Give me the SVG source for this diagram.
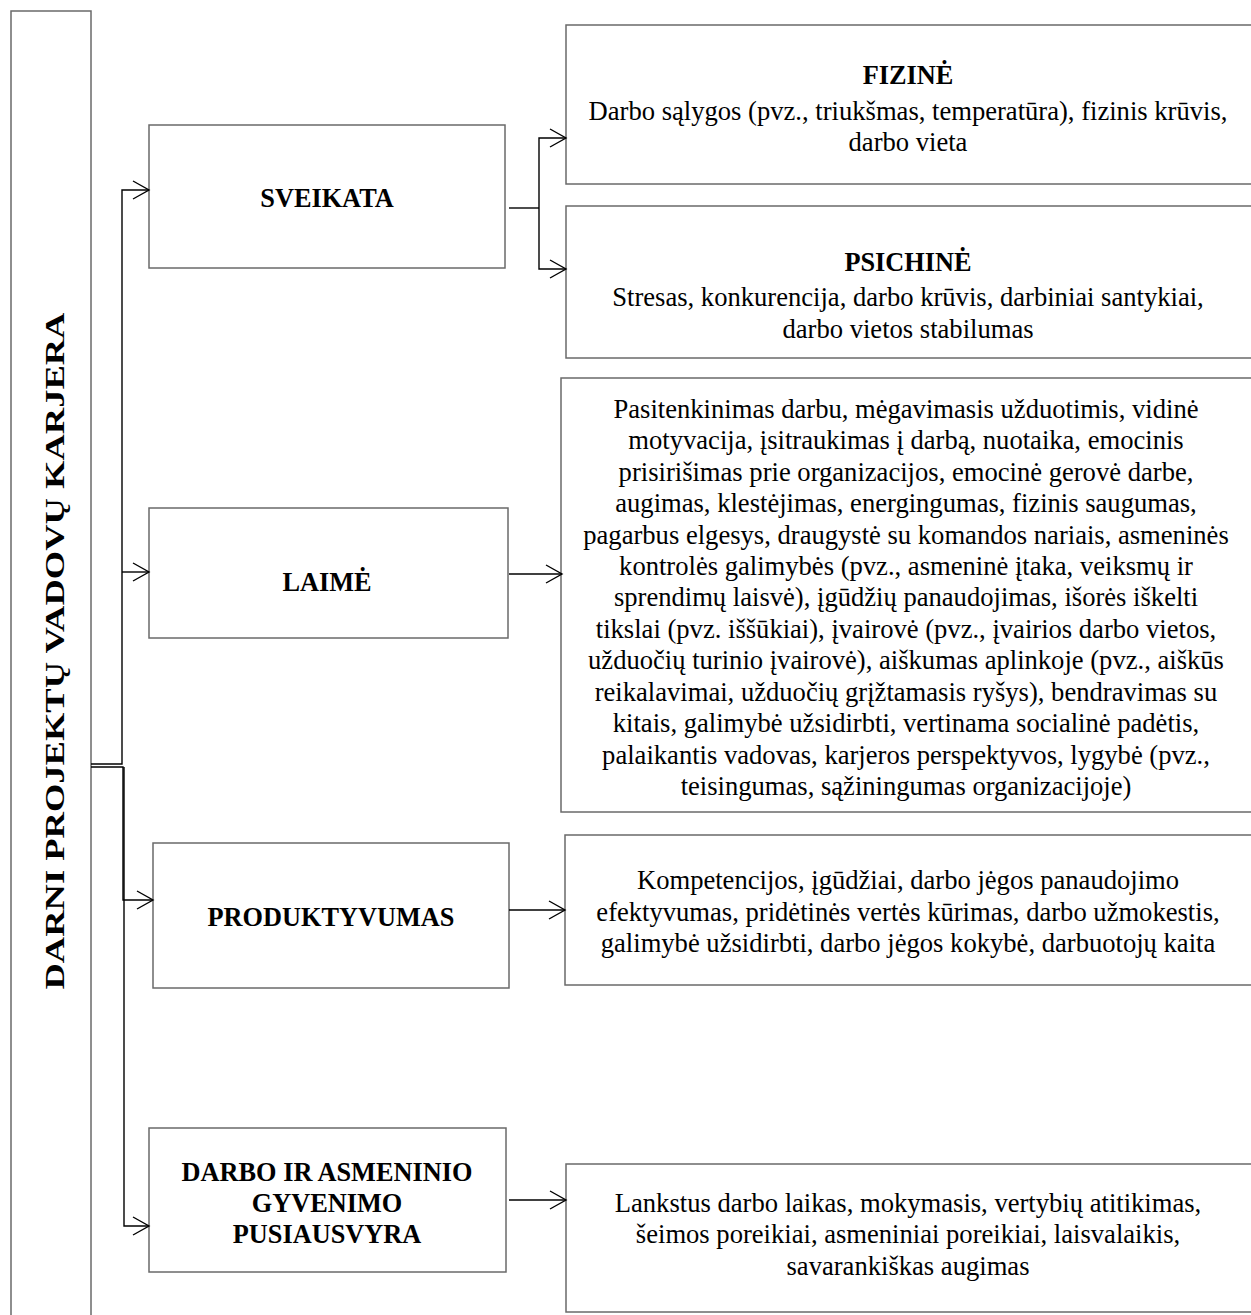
<svg xmlns="http://www.w3.org/2000/svg" width="1251" height="1315" viewBox="0 0 1251 1315">
<style>
.box{fill:#fff;stroke:#6a6a6a;stroke-width:1.5}
.c{fill:none;stroke:#000;stroke-width:1.4}
.t{font-family:"Liberation Serif","Times New Roman",serif;font-size:26.6px;fill:#000;text-anchor:middle}
.b{font-family:"Liberation Serif","Times New Roman",serif;font-size:26.3px;font-weight:bold;fill:#000;text-anchor:middle}
</style>
<defs>
<marker id="arr" viewBox="0 0 20 20" refX="18" refY="10" markerWidth="20" markerHeight="20" orient="auto" markerUnits="userSpaceOnUse">
<path d="M2,1 L18,10 L2,19" fill="none" stroke="#000" stroke-width="1.4"/>
</marker>
</defs>
<rect width="1251" height="1315" fill="#fff"/>

<g id="root">
<rect class="box" x="11" y="11" width="80" height="1320"/>
<text class="b" transform="translate(64,651) rotate(-90)" font-size="37" textLength="677" lengthAdjust="spacingAndGlyphs">DARNI PROJEKTŲ VADOVŲ KARJERA</text>
</g>

<g id="sveikata">
<rect class="box" x="149" y="125" width="356" height="143"/>
<text class="b" x="327" y="207">SVEIKATA</text>
</g>

<g id="fizine">
<rect class="box" x="566" y="25" width="690" height="159"/>
<text class="b" x="908" y="84">FIZINĖ</text>
<text class="t" x="908" y="120">Darbo sąlygos (pvz., triukšmas, temperatūra), fizinis krūvis,</text>
<text class="t" x="908" y="151">darbo vieta</text>
</g>

<g id="psichine">
<rect class="box" x="566" y="206" width="690" height="152"/>
<text class="b" x="908" y="271">PSICHINĖ</text>
<text class="t" x="908" y="306">Stresas, konkurencija, darbo krūvis, darbiniai santykiai,</text>
<text class="t" x="908" y="338">darbo vietos stabilumas</text>
</g>

<g id="laime">
<rect class="box" x="149" y="508" width="359" height="130"/>
<text class="b" x="327" y="591">LAIMĖ</text>
</g>

<g id="laime-desc">
<rect class="box" x="561" y="378" width="695" height="434"/>
<text class="t" x="906" y="418">Pasitenkinimas darbu, mėgavimasis užduotimis, vidinė</text>
<text class="t" x="906" y="449">motyvacija, įsitraukimas į darbą, nuotaika, emocinis</text>
<text class="t" x="906" y="481">prisirišimas prie organizacijos, emocinė gerovė darbe,</text>
<text class="t" x="906" y="512">augimas, klestėjimas, energingumas, fizinis saugumas,</text>
<text class="t" x="906" y="544">pagarbus elgesys, draugystė su komandos nariais, asmeninės</text>
<text class="t" x="906" y="575">kontrolės galimybės (pvz., asmeninė įtaka, veiksmų ir</text>
<text class="t" x="906" y="606">sprendimų laisvė), įgūdžių panaudojimas, išorės iškelti</text>
<text class="t" x="906" y="638">tikslai (pvz. iššūkiai), įvairovė (pvz., įvairios darbo vietos,</text>
<text class="t" x="906" y="669">užduočių turinio įvairovė), aiškumas aplinkoje (pvz., aiškūs</text>
<text class="t" x="906" y="701">reikalavimai, užduočių grįžtamasis ryšys), bendravimas su</text>
<text class="t" x="906" y="732">kitais, galimybė užsidirbti, vertinama socialinė padėtis,</text>
<text class="t" x="906" y="764">palaikantis vadovas, karjeros perspektyvos, lygybė (pvz.,</text>
<text class="t" x="906" y="795">teisingumas, sąžiningumas organizacijoje)</text>
</g>

<g id="produktyvumas">
<rect class="box" x="153" y="843" width="356" height="145"/>
<text class="b" x="331" y="926">PRODUKTYVUMAS</text>
</g>

<g id="produktyvumas-desc">
<rect class="box" x="565" y="835" width="691" height="150"/>
<text class="t" x="908" y="889">Kompetencijos, įgūdžiai, darbo jėgos panaudojimo</text>
<text class="t" x="908" y="921">efektyvumas, pridėtinės vertės kūrimas, darbo užmokestis,</text>
<text class="t" x="908" y="952">galimybė užsidirbti, darbo jėgos kokybė, darbuotojų kaita</text>
</g>

<g id="pusiausvyra">
<rect class="box" x="149" y="1128" width="357" height="144"/>
<text class="b" x="327" y="1181">DARBO IR ASMENINIO</text>
<text class="b" x="327" y="1212">GYVENIMO</text>
<text class="b" x="327" y="1243">PUSIAUSVYRA</text>
</g>

<g id="pusiausvyra-desc">
<rect class="box" x="566" y="1164" width="690" height="148"/>
<text class="t" x="908" y="1212">Lankstus darbo laikas, mokymasis, vertybių atitikimas,</text>
<text class="t" x="908" y="1243">šeimos poreikiai, asmeniniai poreikiai, laisvalaikis,</text>
<text class="t" x="908" y="1275">savarankiškas augimas</text>
</g>

<g id="connectors">
<path class="c" d="M91,764 H122 V190 H149" marker-end="url(#arr)"/>
<path class="c" d="M122,572 H149" marker-end="url(#arr)"/>
<path class="c" d="M91,767 H123 V900 H153" marker-end="url(#arr)"/>
<path class="c" d="M124,767 V1226 H149" marker-end="url(#arr)"/>
<path class="c" d="M509,208 H539"/>
<path class="c" d="M539,208 V138 H566" marker-end="url(#arr)"/>
<path class="c" d="M539,208 V269 H566" marker-end="url(#arr)"/>
<path class="c" d="M509,574 H562" marker-end="url(#arr)"/>
<path class="c" d="M509,910 H565" marker-end="url(#arr)"/>
<path class="c" d="M509,1200 H566" marker-end="url(#arr)"/>
</g>
</svg>
